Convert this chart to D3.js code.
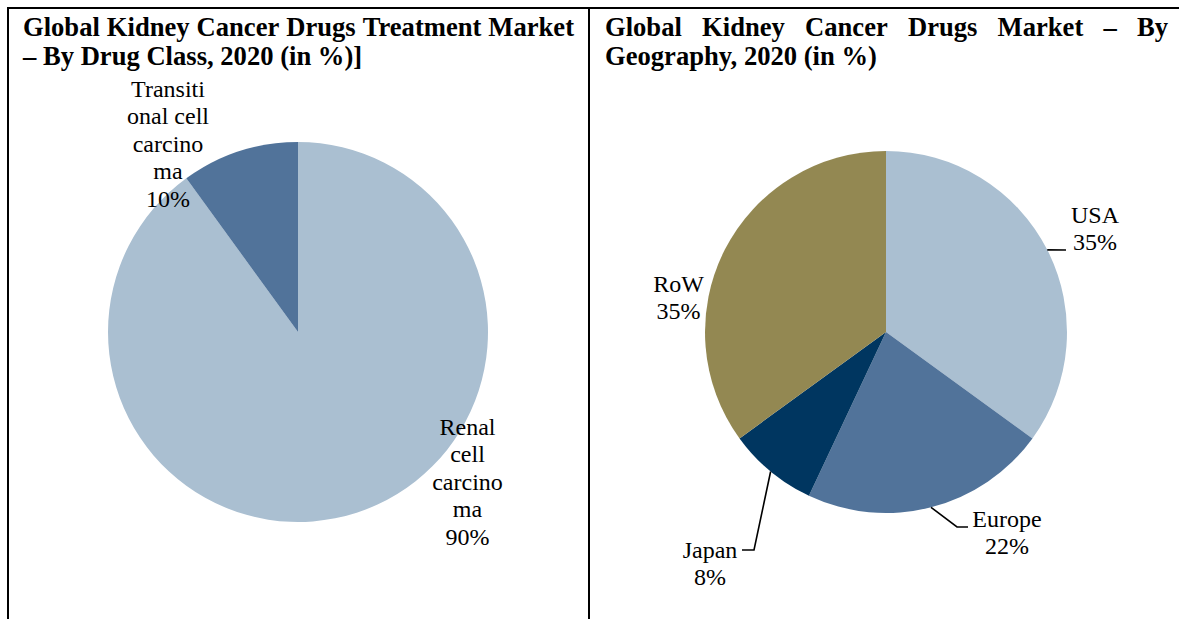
<!DOCTYPE html>
<html>
<head>
<meta charset="utf-8">
<script src="https://cdn.jsdelivr.net/npm/d3@7"></script>
<style>
  html, body { margin: 0; padding: 0; background: #fff; }
  svg { display: block; }
</style>
</head>
<body>
<svg id="chart" width="1179" height="619"></svg>
<script>
// ---- data ----
const drugClasses = ["Renal cell carcinoma", "Transitional cell carcinoma"];
const drugShares = [90, 10];
const drugLabelLines = [["Renal", "cell", "carcino", "ma"], ["Transiti", "onal cell", "carcino", "ma"]];

const regions = ["USA", "Europe", "Japan", "RoW"];
const regionShares = [35, 22, 8, 35];

const leftTitleLines = ["Global Kidney Cancer Drugs Treatment Market", "– By Drug Class, 2020 (in %)]"];
const rightTitleLines = ["Global Kidney Cancer Drugs Market – By", "Geography, 2020 (in %)"];

// ---- styling ----
const W = 1179, H = 619;
const serif = "'Liberation Serif', 'Times New Roman', Times, serif";
const drugColors = d3.scaleOrdinal().domain(drugClasses).range(["#aabfd1", "#51739a"]);
const regionColors = d3.scaleOrdinal().domain(regions).range(["#aabfd1", "#51739a", "#003660", "#938852"]);

const svg = d3.select("#chart");

// table frame: top rule, left rule and the column divider
const frame = svg.append("g").attr("stroke", "#000").attr("stroke-width", 2);
frame.append("line").attr("x1", 7).attr("x2", W).attr("y1", 8).attr("y2", 8);
frame.append("line").attr("x1", 8).attr("x2", 8).attr("y1", 7).attr("y2", H);
frame.append("line").attr("x1", 589).attr("x2", 589).attr("y1", 7).attr("y2", H);

// justified bold title: every line but the last is spread to the full width
function drawTitle(lines, x0, x1, y0, lineH) {
  const g = svg.append("g")
    .attr("font-family", serif).attr("font-weight", "bold")
    .attr("font-size", "26.6px").attr("fill", "#000");
  lines.forEach((line, i) => {
    const y = y0 + i * lineH;
    const words = line.split(" ");
    const nodes = words.map(w => g.append("text").attr("y", y).text(w));
    const widths = nodes.map(n => n.node().getComputedTextLength());
    const total = d3.sum(widths);
    const last = i === lines.length - 1;
    const space = 26.6 * 0.25;
    const gap = (!last && words.length > 1) ? (x1 - x0 - total) / (words.length - 1) : space;
    let x = x0;
    nodes.forEach((n, k) => { n.attr("x", x); x += widths[k] + gap; });
  });
}
drawTitle(leftTitleLines, 23, 574, 35.5, 29.5);
drawTitle(rightTitleLines, 605, 1168, 35.5, 29.5);

// multi-line centred label
function drawLabel(lines, cx, y0, lineH) {
  const t = svg.append("text")
    .attr("font-family", serif).attr("font-size", "24px")
    .attr("fill", "#000").attr("text-anchor", "middle");
  lines.forEach((s, i) => t.append("tspan").attr("x", cx).attr("y", y0 + i * lineH).text(s));
}

const pie = d3.pie().sort(null).value(d => d.value);
const lineH = 27.4;

// ---- left pie: drug class ----
{
  const cx = 298, cy = 332, r = 190;
  const data = drugClasses.map((c, i) => ({ name: c, value: drugShares[i], lines: drugLabelLines[i] }));
  const arcs = pie(data);
  const arc = d3.arc().innerRadius(0).outerRadius(r);
  const g = svg.append("g").attr("transform", `translate(${cx},${cy})`);
  g.selectAll("path").data(arcs).join("path")
    .attr("d", arc).attr("fill", d => drugColors(d.data.name));

  // label anchors (centre x, first baseline)
  const labelPos = { "Renal cell carcinoma": [467.5, 435], "Transitional cell carcinoma": [168, 97] };
  arcs.forEach(a => {
    const [lx, ly] = labelPos[a.data.name];
    drawLabel(a.data.lines.concat([a.data.value + "%"]), lx, ly, lineH);
  });
}

// ---- right pie: geography ----
{
  const cx = 886, cy = 332, r = 181;
  const data = regions.map((c, i) => ({ name: c, value: regionShares[i] }));
  const arcs = pie(data);
  const arc = d3.arc().innerRadius(0).outerRadius(r);
  const rim = d3.arc().innerRadius(r).outerRadius(r);
  const g = svg.append("g").attr("transform", `translate(${cx},${cy})`);
  g.selectAll("path").data(arcs).join("path")
    .attr("d", arc).attr("fill", d => regionColors(d.data.name));

  // label anchors and leader elbows in page coordinates
  const layout = {
    USA:    { lx: 1095, ly: 223, leader: [[1066, 250]] },
    Europe: { lx: 1007, ly: 527, leader: [[957, 527], [968, 527]] },
    Japan:  { lx: 710,  ly: 558, leader: [[754, 550], [742, 550]] },
    RoW:    { lx: 678.5, ly: 292, leader: null }
  };
  arcs.forEach(a => {
    const L = layout[a.data.name];
    if (L.leader) {
      const [px, py] = rim.centroid(a);
      const pts = [[cx + px, cy + py]].concat(L.leader);
      svg.append("path")
        .attr("d", d3.line()(pts))
        .attr("fill", "none").attr("stroke", "#000").attr("stroke-width", 1.6);
    }
    drawLabel([a.data.name, a.data.value + "%"], L.lx, L.ly, 27);
  });
}
</script>
</body>
</html>
